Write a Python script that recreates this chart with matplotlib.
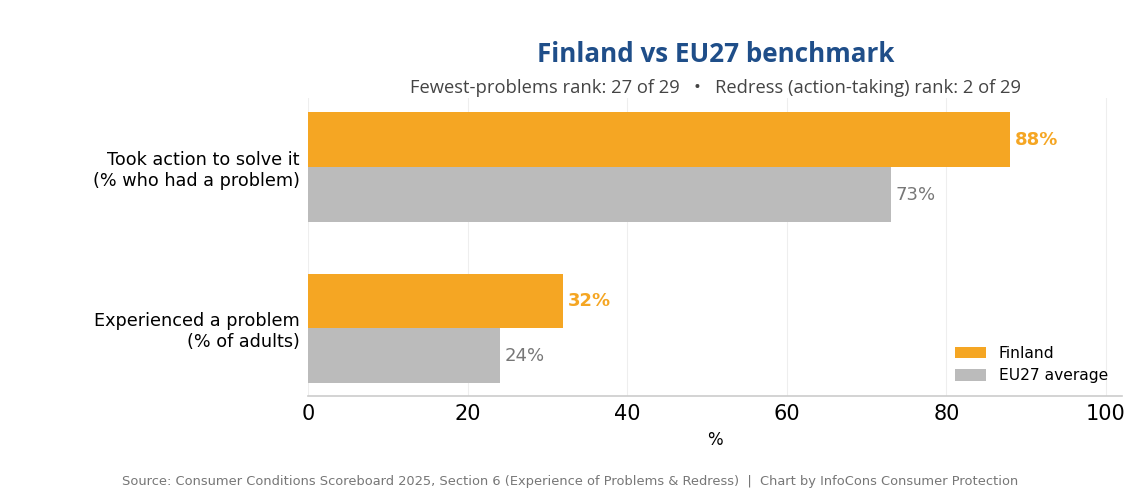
import numpy as np
import matplotlib.pyplot as plt

# data
categories = ['Experienced a problem\n(% of adults)', 'Took action to solve it\n(% who had a problem)']
finland = [32, 88]
eu27 = [24, 73]

fin_color = '#F5A623'
eu_color = '#BBBBBB'

fig = plt.figure(figsize=(11.4, 4.95), dpi=100)
ax = fig.add_axes([308 / 1140, 1 - 396 / 495, (1122 - 308) / 1140, (396 - 98) / 495])

y = np.arange(len(categories))
h = 0.34
b1 = ax.barh(y + h / 2, finland, height=h, color=fin_color, label='Finland')
b2 = ax.barh(y - h / 2, eu27, height=h, color=eu_color, label='EU27 average')

for rect, v in zip(b1, finland):
    ax.text(v + 0.6, rect.get_y() + rect.get_height() / 2, f'{v}%', va='center', ha='left',
            fontsize=13, fontweight='bold', color=fin_color)
for rect, v in zip(b2, eu27):
    ax.text(v + 0.6, rect.get_y() + rect.get_height() / 2, f'{v}%', va='center', ha='left',
            fontsize=13, color='#777777')

ax.set_yticks(y)
ax.set_yticklabels(categories, fontsize=12.7)
ax.set_xlim(0, 102)
ax.set_ylim(-0.42, 1.43)
ax.set_xticks([0, 20, 40, 60, 80, 100])
ax.tick_params(axis='x', labelsize=15, length=0, pad=6)
ax.tick_params(axis='y', length=0, pad=6)
ax.set_xlabel('%', fontsize=12, labelpad=5)
ax.grid(axis='x', color='#EEEEEE', linewidth=0.8)
ax.set_axisbelow(True)
for s in ['top', 'right', 'left']:
    ax.spines[s].set_visible(False)
ax.spines['bottom'].set_color('#CCCCCC')
ax.spines['bottom'].set_linewidth(1.2)

ax.legend(loc='lower right', frameon=False, fontsize=11.2, handlelength=2.0, handleheight=0.75,
          bbox_to_anchor=(1.0, -0.005))

fig.text(716 / 1140, 1 - 55 / 495, 'Finland vs EU27 benchmark', ha='center', va='center',
         fontsize=18.7, fontweight='bold', color='#1F4E89', family='Open Sans')
fig.text(716 / 1140, 1 - 88 / 495,
         'Fewest-problems rank: 27 of 29   \u2022   Redress (action-taking) rank: 2 of 29',
         ha='center', va='center', fontsize=13.2, color='#444444', family='Open Sans')
fig.text(570 / 1140, 1 - 482 / 495,
         'Source: Consumer Conditions Scoreboard 2025, Section 6 (Experience of Problems & Redress)  |  Chart by InfoCons Consumer Protection',
         ha='center', va='center', fontsize=9.4, color='#777777')

fig.savefig('out.png', dpi=100)
